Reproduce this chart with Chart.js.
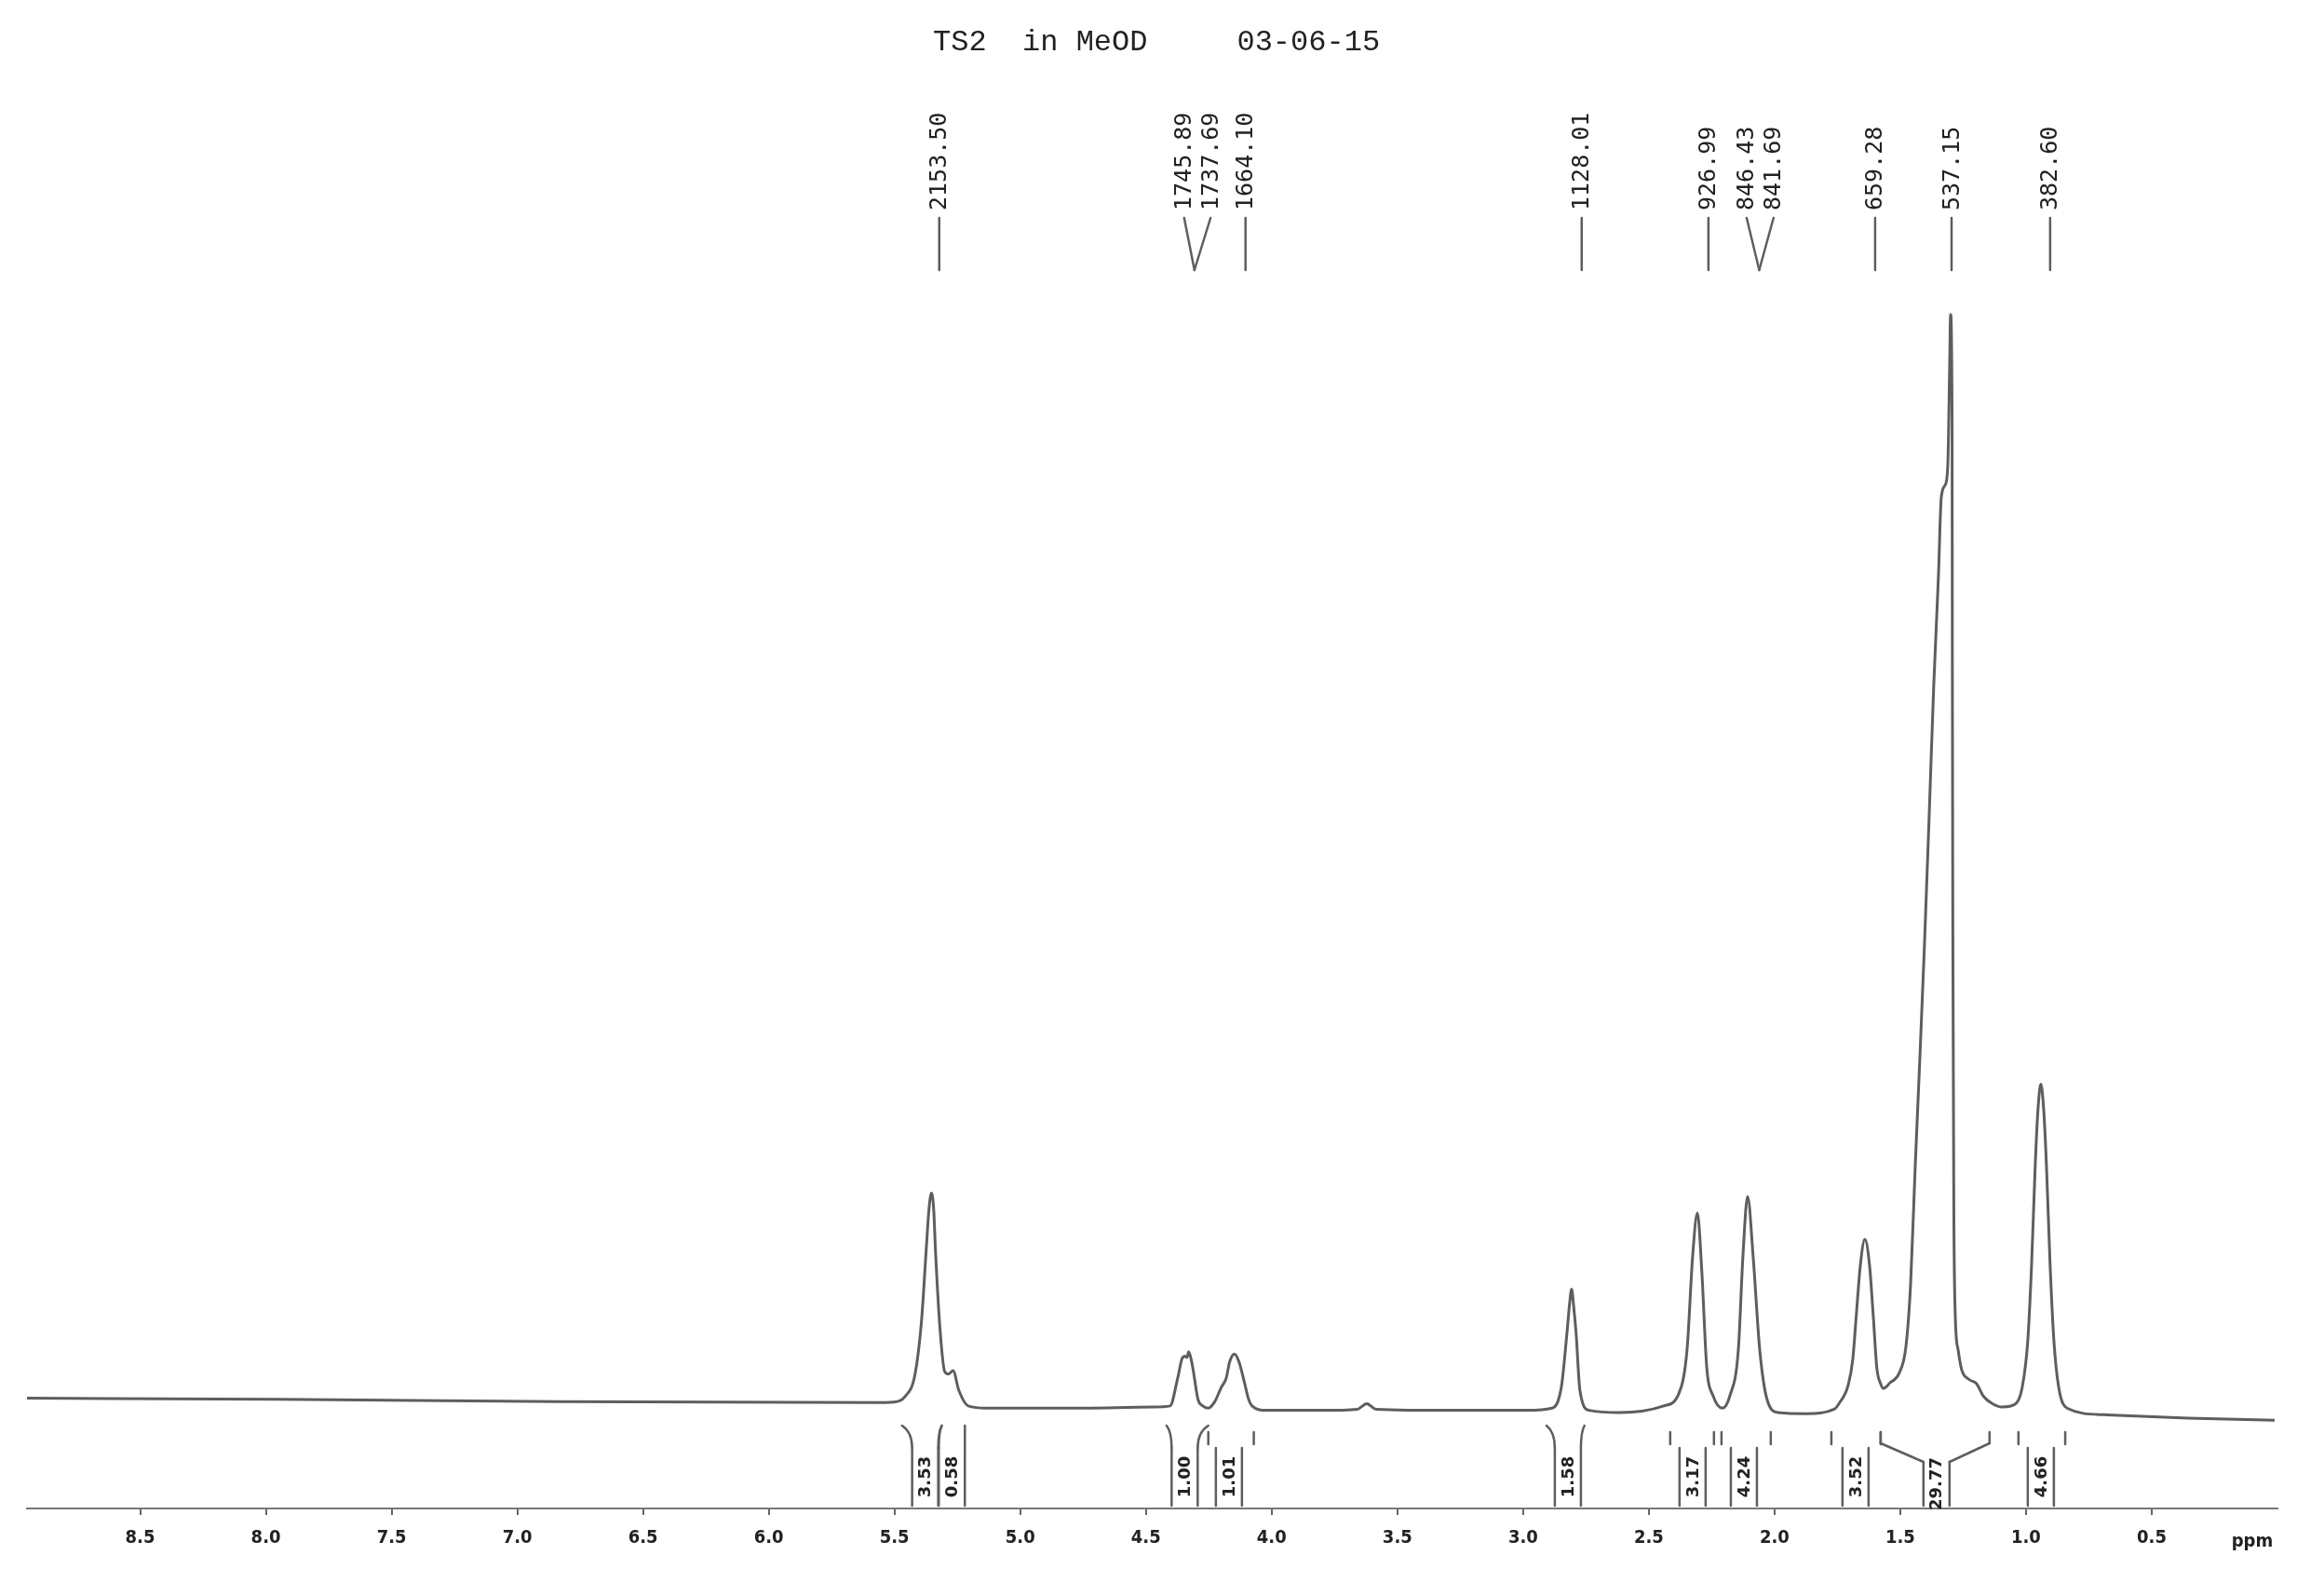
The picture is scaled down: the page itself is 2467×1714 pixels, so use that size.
<!DOCTYPE html>
<html><head><meta charset="utf-8">
<script src="https://cdn.jsdelivr.net/npm/chart.js@4.4.1/dist/chart.umd.min.js"></script>
<style>html,body{margin:0;padding:0;background:#fff;}canvas{display:block;}</style>
</head><body>
<canvas id="c" width="2467" height="1714"></canvas>
<script>
// ---- data ----
const titleText = 'TS2  in MeOD     03-06-15';

const shiftPpm = [8.956,7.948,6.837,5.578,5.504,5.456,5.419,5.393,5.374,5.363,5.353,5.344,5.337,5.319,5.300,5.285,5.267,5.244,5.207,5.133,
 4.800,4.467,4.404,4.374,4.356,4.344,4.337,4.330,4.319,4.311,4.293,4.274,4.252,4.226,4.200,4.181,4.167,4.148,4.130,4.107,4.093,4.078,4.022,
 3.800,3.659,3.622,3.585,3.281,2.985,2.885,2.848,2.826,2.815,2.807,2.800,2.789,2.774,2.737,2.615,2.441,2.381,2.348,2.326,2.307,2.289,2.270,2.244,2.207,
 2.178,2.144,2.126,2.107,2.085,2.059,2.030,1.985,1.874,1.763,1.744,1.707,1.689,1.674,1.659,1.641,1.622,1.607,1.593,1.578,1.567,
 1.541,1.504,1.478,1.459,1.441,1.422,1.404,1.385,1.367,1.348,1.337,1.322,1.311,1.304,1.300,1.294,1.293,1.291,1.287,1.281,1.270,1.256,1.226,1.196,1.170,1.133,1.096,
 1.041,1.015,0.993,0.978,0.963,0.952,0.941,0.930,0.919,0.904,0.889,0.870,0.837,0.689,0.356,0.011];
const intensity = [1.7,1.6,1.4,1.3,1.35,1.9,3.8,8.6,15.1,18.8,20.3,18.8,15.1,8.0,4.1,3.9,4.2,2.4,1.0,0.8,
 0.8,0.9,1.0,3.5,5.3,5.5,5.4,5.9,5.1,4.1,1.6,1.0,0.8,1.4,2.7,3.5,5.0,5.7,5.0,3.0,1.7,1.0,0.6,
 0.6,0.7,1.2,0.7,0.6,0.6,0.8,2.7,7.5,10.3,11.6,10.3,7.5,2.4,0.6,0.4,1.0,2.1,6.1,14.5,18.5,13.1,4.6,1.9,0.8,
 1.9,6.1,14.5,20.0,14.5,6.1,1.6,0.4,0.3,0.7,1.2,2.9,5.2,9.5,13.7,16.1,13.7,9.0,4.4,3.0,2.6,
 3.1,4.0,6.3,12.0,22.5,32.6,42.7,54.6,66.3,76.4,83.4,84.5,86.3,94.8,100,90.5,69.4,44.1,18.8,9.0,6.1,4.3,3.4,3.0,1.9,1.2,0.9,
 1.2,2.7,6.9,13.7,23.0,28.0,30.2,28.0,23.0,13.7,6.9,2.7,0.8,0.2,-0.1,-0.3];

const tickValues = [8.5,8.0,7.5,7.0,6.5,6.0,5.5,5.0,4.5,4.0,3.5,3.0,2.5,2.0,1.5,1.0,0.5];
const tickLabels = ['8.5','8.0','7.5','7.0','6.5','6.0','5.5','5.0','4.5','4.0','3.5','3.0','2.5','2.0','1.5','1.0','0.5'];
const unitLabel = 'ppm';

const peakLabels   = ['2153.50','1745.89','1737.69','1664.10','1128.01','926.99','846.43','841.69','659.28','537.15','382.60'];
const peakLabelPpm = [5.322,4.348,4.243,4.104,2.767,2.263,2.111,2.004,1.600,1.296,0.904];
const peakTipPpm   = [5.322,4.307,4.307,4.104,2.767,2.263,2.061,2.061,1.600,1.296,0.904];

const integralLabels = ['3.53','0.58','1.00','1.01','1.58','3.17','4.24','3.52','29.77','4.66'];
const integralCentre = [5.378,5.272,4.346,4.170,2.822,2.326,2.122,1.678,1.356,0.941];
const integralFrom   = [5.470,5.312,4.418,4.252,2.907,2.415,2.211,1.774,1.578,1.030];
const integralTo     = [5.312,5.220,4.252,4.071,2.756,2.241,2.015,1.578,1.145,0.844];
const integralLink   = ['curve','curve','curve','tick','curve','tick','tick','tick','slant','tick'];

// ---- chart ----
const points = shiftPpm.map((v,i)=>({x:v,y:intensity[i]}));
const INK = '#222', LINE = '#5e5e5e';

const decor = {
  id:'decor',
  afterDraw(chart){
    const {ctx, scales:{x}} = chart;
    ctx.save();
    // title
    ctx.fillStyle = INK;
    ctx.font = '32px "Liberation Mono","DejaVu Sans Mono",monospace';
    ctx.textAlign = 'left'; ctx.textBaseline = 'middle';
    ctx.fillText(titleText, 1002, 46);

    // peak labels
    ctx.strokeStyle = LINE; ctx.lineWidth = 2.5; ctx.lineCap='round';
    peakLabels.forEach((t,i)=>{
      const tx = x.getPixelForValue(peakLabelPpm[i]);
      const px = x.getPixelForValue(peakTipPpm[i]);
      ctx.beginPath(); ctx.moveTo(tx,234); ctx.lineTo(px,290); ctx.stroke();
      ctx.save(); ctx.translate(tx,226); ctx.rotate(-Math.PI/2);
      ctx.font = '25px "DejaVu Sans Mono",monospace';
      ctx.textAlign='left'; ctx.textBaseline='middle'; ctx.fillStyle=INK;
      ctx.fillText(t,0,1); ctx.restore();
    });

    // integrals
    const seg=(a,b,c,d)=>{ctx.beginPath();ctx.moveTo(a,b);ctx.lineTo(c,d);ctx.stroke();};
    integralLabels.forEach((t,i)=>{
      const c = x.getPixelForValue(integralCentre[i]);
      const l = c-14, r = c+14;
      const slant = integralLink[i]==='slant';
      const top = slant ? 1570 : 1555, bot = 1617;
      seg(l,top,l,bot); seg(r,top,r,bot);
      const a = x.getPixelForValue(integralFrom[i]);
      const b = x.getPixelForValue(integralTo[i]);
      if (integralLink[i]==='curve'){
        ctx.beginPath(); ctx.moveTo(a,1531); ctx.quadraticCurveTo(l,1538,l,top); ctx.stroke();
        ctx.beginPath(); ctx.moveTo(b,1531); ctx.quadraticCurveTo(r,1538,r,top); ctx.stroke();
      } else if (slant){
        seg(a,1538,a,1550); seg(b,1538,b,1550);
        seg(a,1550,l,top); seg(r,top,b,1550);
      } else {
        seg(a,1538,a,1551); seg(b,1538,b,1551);
      }
      ctx.save(); ctx.translate(c,(top+bot)/2); ctx.rotate(-Math.PI/2);
      ctx.font='bold 18px "DejaVu Sans",sans-serif'; ctx.fillStyle=INK;
      ctx.textAlign='center'; ctx.textBaseline='middle';
      ctx.fillText(t,0,1); ctx.restore();
    });

    // unit label
    ctx.font = 'bold 20px "Liberation Sans Narrow","DejaVu Sans Condensed",sans-serif';
    ctx.fillStyle = INK; ctx.textAlign='center'; ctx.textBaseline='middle';
    ctx.fillText(unitLabel, x.getPixelForValue(0.1), 1656);
    ctx.restore();
  }
};

new Chart(document.getElementById('c'), {
  type:'scatter',
  data:{datasets:[{
    data:points, showLine:true, pointRadius:0, borderColor:LINE, borderWidth:3,
    cubicInterpolationMode:'monotone', borderJoinStyle:'round', fill:false
  }]},
  options:{
    responsive:false, devicePixelRatio:1, animation:false,
    layout:{padding:{left:29,right:21,top:50,bottom:0}},
    plugins:{legend:{display:false},tooltip:{enabled:false},title:{display:false}},
    scales:{
      x:{
        type:'linear', reverse:true, min:0, max:8.95,
        afterFit(s){ s.height = 1714-1620; },
        afterBuildTicks(s){ s.ticks = tickValues.map(v=>({value:v})); },
        ticks:{
          autoSkip:false, maxRotation:0, includeBounds:false, padding:13,
          color:INK,
          font:{family:'"Liberation Sans Narrow","DejaVu Sans Condensed",sans-serif',size:20,weight:'bold'},
          callback:(v,i)=>tickLabels[i]
        },
        grid:{display:true, drawOnChartArea:false, drawTicks:true, tickLength:7, color:'#666', lineWidth:2},
        border:{display:true, color:'#777', width:2, dash:[6,3]}
      },
      y:{display:false, min:-8.3, max:124.3}
    }
  },
  plugins:[decor]
});
</script>
</body></html>
